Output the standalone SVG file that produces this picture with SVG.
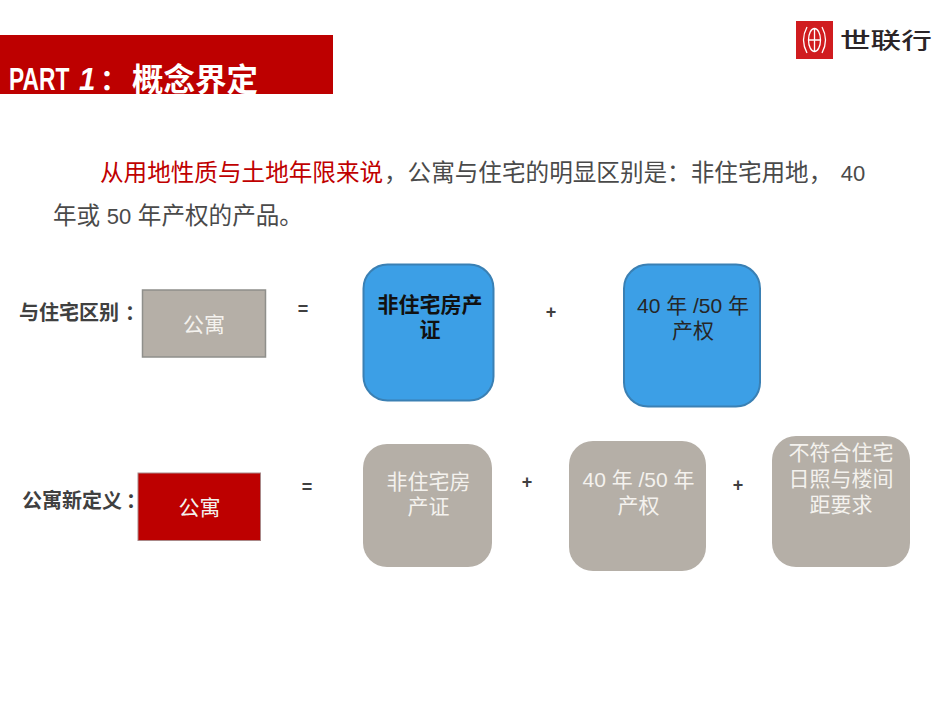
<svg xmlns="http://www.w3.org/2000/svg" width="950" height="713" viewBox="0 0 950 713">
<style>
text{font-family:"Liberation Sans","Noto Sans CJK SC",sans-serif}
.w{fill:#f4f2ee;font-size:21px;text-anchor:middle}
.k{fill:#262626;font-size:21px;text-anchor:middle}
.body{fill:#4a4a4a;font-size:23.600px}
.num{font-size:22px}
.lab{fill:#404040;font-size:20px;font-weight:700}
.op{fill:#404040;font-size:18px;font-weight:700;text-anchor:middle}
.g{fill:#b5afa7}
.b{fill:#3c9fe6;stroke:#3a80b4;stroke-width:2}
</style>
<g id="header">
<rect x="0" y="35" width="333" height="59" fill="#bd0000"/>
<text transform="translate(9 90) scale(.735 1)" fill="#fff" font-size="31" font-weight="700">PART</text>
<text transform="translate(79 90) scale(.95 1)" fill="#fff" font-size="31" font-style="italic" font-weight="700">1</text>
<text x="100" y="90" fill="#fff" font-size="28" font-weight="700">：</text>
<text x="132" y="90.500" fill="#fff" font-size="31.500" font-weight="700">概念界定</text>
</g>
<g id="logo">
<rect x="796" y="21" width="37" height="38" fill="#d01c1f"/>
<g fill="none" stroke="#fff" stroke-width="1.300">
<ellipse cx="814.500" cy="40" rx="6" ry="11.500"/>
<path d="M814.500 28.500V51.500M808.500 40H820.500M807 27Q800 40 807 53M822 27Q829 40 822 53"/>
</g>
<text transform="translate(840 47.500) scale(1.390 1)" fill="#2b2426" font-size="22" font-weight="500">世联行</text>
</g>
<g id="intro">
<text x="100" y="181" font-size="23.600" fill="#c00000">从用地性质与土地年限来说</text>
<text x="384" y="181" class="body">，公寓与住宅的明显区别是：非住宅用地， <tspan class="num" dx="2">40</tspan></text>
<text x="53" y="224" class="body">年或 <tspan class="num">50</tspan> 年产权的产品。</text>
</g>
<g id="label-1"><text x="19" y="320" class="lab">与住宅区别<tspan dx="6">：</tspan></text></g>
<g id="apartment-grey">
<rect x="142.500" y="290" width="123" height="67" fill="#b5afa7" stroke="#8f8f8b" stroke-width="1.500"/>
<text x="204" y="332" class="w">公寓</text>
</g>
<g id="equals-1"><text x="303" y="315" class="op">=</text></g>
<g id="box-non-residential">
<rect x="363.500" y="264.500" width="130" height="136" rx="24" class="b"/>
<text x="430" y="312" class="k" font-weight="700" style="fill:#111">非住宅房产</text>
<text x="430" y="337" class="k" font-weight="700" style="fill:#111">证</text>
</g>
<g id="plus-1"><text x="551" y="318" class="op">+</text></g>
<g id="box-term">
<rect x="624" y="264.500" width="136" height="142" rx="24" class="b"/>
<text x="693" y="313" class="k">40 年 /50 年</text>
<text x="693" y="338" class="k">产权</text>
</g>
<g id="label-2"><text x="22" y="508" class="lab">公寓新定义<tspan dx="4">：</tspan></text></g>
<g id="apartment-red">
<rect x="138" y="473" width="122.500" height="67.500" fill="#bd0000" stroke="#a88" stroke-width="1"/>
<text x="199.500" y="515" class="w">公寓</text>
</g>
<g id="equals-2"><text x="307" y="493" class="op">=</text></g>
<g id="box-non-residential-2">
<rect x="363" y="444" width="129" height="123" rx="24" class="g"/>
<text x="428.500" y="489" class="w">非住宅房</text>
<text x="428.500" y="514" class="w">产证</text>
</g>
<g id="plus-2"><text x="527" y="488" class="op">+</text></g>
<g id="box-term-2">
<rect x="569" y="441" width="137" height="130" rx="24" class="g"/>
<text x="638.500" y="487" class="w">40 年 /50 年</text>
<text x="638.500" y="513" class="w">产权</text>
</g>
<g id="plus-3"><text x="738" y="491" class="op">+</text></g>
<g id="box-sunlight">
<rect x="772" y="436" width="138" height="131" rx="24" class="g"/>
<text x="841" y="460" class="w">不符合住宅</text>
<text x="841" y="486" class="w">日照与楼间</text>
<text x="841" y="512" class="w">距要求</text>
</g>
</svg>
